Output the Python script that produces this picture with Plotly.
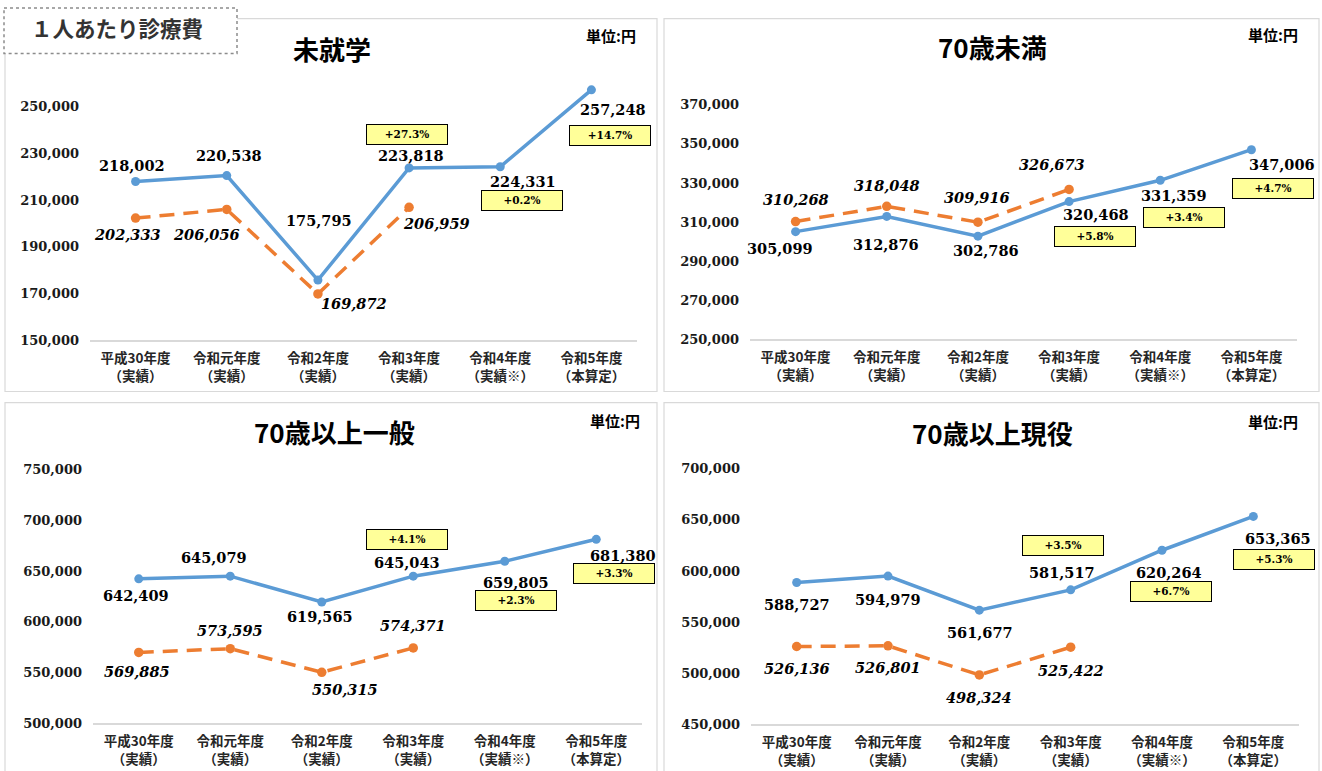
import plotly.graph_objects as go

W, H = 1322, 771

categories = ["平成30年度<br>（実績）", "令和元年度<br>（実績）", "令和2年度<br>（実績）",
              "令和3年度<br>（実績）", "令和4年度<br>（実績※）", "令和5年度<br>（本算定）"]

titles = ["未就学", "70歳未満", "70歳以上一般", "70歳以上現役"]

blue_mishuugaku = [218002, 220538, 175795, 223818, 224331, 257248]
orange_mishuugaku = [202333, 206056, 169872, 206959]
blue_70miman = [305099, 312876, 302786, 320468, 331359, 347006]
orange_70miman = [310268, 318048, 309916, 326673]
blue_70ippan = [642409, 645079, 619565, 645043, 659805, 681380]
orange_70ippan = [569885, 573595, 550315, 574371]
blue_70geneki = [588727, 594979, 561677, 581517, 620264, 653365]
orange_70geneki = [526136, 526801, 498324, 525422]

pct_mishuugaku = ["+27.3%", "+0.2%", "+14.7%"]
pct_70miman = ["+5.8%", "+3.4%", "+4.7%"]
pct_70ippan = ["+4.1%", "+2.3%", "+3.3%"]
pct_70geneki = ["+3.5%", "+6.7%", "+5.3%"]

ytick_mishuugaku = [150000, 170000, 190000, 210000, 230000, 250000]
ytick_70miman = [250000, 270000, 290000, 310000, 330000, 350000, 370000]
ytick_70ippan = [500000, 550000, 600000, 650000, 700000, 750000]
ytick_70geneki = [450000, 500000, 550000, 600000, 650000, 700000]

blues = [blue_mishuugaku, blue_70miman, blue_70ippan, blue_70geneki]
oranges = [orange_mishuugaku, orange_70miman, orange_70ippan, orange_70geneki]
pcts = [pct_mishuugaku, pct_70miman, pct_70ippan, pct_70geneki]
yticks = [ytick_mishuugaku, ytick_70miman, ytick_70ippan, ytick_70geneki]

# ---- layout / style (pixel geometry) ----
panels = [
    dict(box=(5, 20, 657, 392), xdom=(90, 637), ydom=(341, 84.7), yr=(150000, 260000),
         title=(332, 50), unit=(611, 37)),
    dict(box=(664, 20, 1319, 392), xdom=(750, 1297), ydom=(340, 106), yr=(250000, 370000),
         title=(992, 48), unit=(1273, 36)),
    dict(box=(5, 403, 657, 775), xdom=(93, 642), ydom=(723, 470), yr=(500000, 750000),
         title=(334, 432), unit=(615, 421)),
    dict(box=(664, 403, 1319, 775), xdom=(751, 1299), ydom=(724, 469), yr=(450000, 700000),
         title=(992, 433), unit=(1273, 422)),
]
blue_off = [
    [(-4, -16), (2, -20), (1, -58), (2, -12), (23, 14), (22, 19)],
    [(-16, 16), (-1, 27), (8, 14), (27, 13), (14, 15), (31, 14)],
    [(-3, 16), (-16, -18), (-2, 14), (-6, -13), (11, 21), (27, 16)],
    [(0, 22), (0, 23), (1, 22), (-9, -17), (7, 22), (25, 22)],
]
orange_off = [
    [(-8, 16), (-20, 25), (36, 9), (27, 16)],
    [(0, -22), (0, -20), (-1, -24), (-17, -24)],
    [(-2, 19), (0, -18), (23, 17), (0, -22)],
    [(0, 22), (0, 21), (0, 22), (0, 23)],
]
pct_off = [
    [(-2, -33), (22, 33), (19, 45)],
    [(26, 34), (24, 36), (22, 38)],
    [(-6, -36), (11, 38), (18, 33)],
    [(-8, -43), (9, 40), (21, 42)],
]

BLUE = "#5B9BD5"
ORANGE = "#ED7D31"
SERIF = "DejaVu Serif"
SANS = "Noto Sans CJK JP"

# vertical calibration (photographed page is slightly squeezed vertically)
VS, VO = 0.978, 8.5

def px_x(v):
    return v / W

def px_y(v):
    return 1 - ((v - VO) / VS) / H

def dyv(d):
    return d / VS

fig = go.Figure()
shapes = []
annotations = []
layout_axes = {}

for i, p in enumerate(panels):
    n = "" if i == 0 else str(i + 1)
    xa, ya = "x" + n, "y" + n
    b = blues[i]
    o = oranges[i]
    fig.add_trace(go.Scatter(x=categories, y=b, xaxis=xa, yaxis=ya, mode="lines+markers",
                             line=dict(color=BLUE, width=3.5), marker=dict(size=9, color=BLUE),
                             showlegend=False, hoverinfo="skip", cliponaxis=False))
    fig.add_trace(go.Scatter(x=categories[:len(o)], y=o, xaxis=xa, yaxis=ya, mode="lines+markers",
                             line=dict(color=ORANGE, width=3.5, dash="15px,9px"),
                             marker=dict(size=9.5, color=ORANGE),
                             showlegend=False, hoverinfo="skip", cliponaxis=False))
    layout_axes["xaxis" + n] = dict(
        domain=[px_x(p["xdom"][0]), px_x(p["xdom"][1])], anchor=ya, type="category",
        range=[-0.5, 5.5], showgrid=False, zeroline=False, showline=True, linecolor="#d9d9d9",
        linewidth=1.5, ticks="", ticklabelstandoff=5,
        tickfont=dict(family=SANS, size=13.5, color="#262626", weight="bold"))
    layout_axes["yaxis" + n] = dict(
        domain=[px_y(p["ydom"][0]), px_y(p["ydom"][1])], anchor=xa, range=list(p["yr"]),
        showgrid=False, zeroline=False, showline=False, tickmode="array",
        tickvals=yticks[i], ticktext=[f"{v:,}" for v in yticks[i]], ticks="",
        ticklabelstandoff=10, tickfont=dict(family=SERIF, size=13, color="#1a1a1a", weight="bold"))

    x0, y0, x1, y1 = p["box"]
    shapes.append(dict(type="rect", xref="paper", yref="paper", x0=px_x(x0), x1=px_x(x1),
                       y0=px_y(y0), y1=px_y(y1), line=dict(color="#d9d9d9", width=1.2),
                       fillcolor="rgba(0,0,0,0)", layer="below"))
    annotations.append(dict(xref="paper", yref="paper", x=px_x(p["title"][0]), y=px_y(p["title"][1]),
                            text=titles[i], showarrow=False, xanchor="center", yanchor="middle",
                            font=dict(family=SANS, size=26, color="#000000", weight="bold")))
    annotations.append(dict(xref="paper", yref="paper", x=px_x(p["unit"][0]), y=px_y(p["unit"][1]),
                            text="単位:円", showarrow=False, xanchor="center", yanchor="middle",
                            font=dict(family=SANS, size=15, color="#000000", weight="bold")))
    for j, v in enumerate(b):
        dx, dy = blue_off[i][j]
        annotations.append(dict(xref=xa, yref=ya, x=categories[j], y=v, text=f"{v:,}",
                                showarrow=False, xshift=dx, yshift=-dyv(dy),
                                font=dict(family=SERIF, size=14.5, color="#000000", weight="bold")))
    for j, v in enumerate(o):
        dx, dy = orange_off[i][j]
        annotations.append(dict(xref=xa, yref=ya, x=categories[j], y=v, text=f"{v:,}",
                                showarrow=False, xshift=dx, yshift=-dyv(dy),
                                font=dict(family=SERIF, size=14.5, color="#000000", weight="bold",
                                          style="italic")))
    for k, t in enumerate(pcts[i]):
        j = 3 + k
        dx, dy = pct_off[i][k]
        annotations.append(dict(xref=xa, yref=ya, x=categories[j], y=b[j], text=t,
                                showarrow=False, xshift=dx, yshift=-dyv(dy), width=78, height=16.5,
                                bgcolor="#FFFF99", bordercolor="#000000", borderwidth=1, borderpad=1,
                                font=dict(family=SERIF, size=10.5, color="#000000", weight="bold")))

# header label box
shapes.append(dict(type="rect", xref="paper", yref="paper", x0=px_x(4), x1=px_x(237),
                   y0=1 - 1.0 / H, y1=px_y(55), line=dict(color="#8c8c8c", width=1.5, dash="dot"),
                   fillcolor="#ffffff", layer="above"))
annotations.append(dict(xref="paper", yref="paper", x=px_x(117), y=px_y(29), text="１人あたり診療費",
                        showarrow=False, xanchor="center", yanchor="middle",
                        font=dict(family=SANS, size=21.5, color="#333333", weight="bold")))

fig.update_layout(width=W, height=H, margin=dict(l=0, r=0, t=0, b=0),
                  paper_bgcolor="white", plot_bgcolor="white",
                  shapes=shapes, annotations=annotations, **layout_axes)

fig.write_html("out.html", config={"displayModeBar": False},
               post_script=("document.body.style.margin='0';document.body.style.padding='0';"
                            "document.body.style.overflow='hidden';"
                            "document.documentElement.style.overflow='hidden';"))
